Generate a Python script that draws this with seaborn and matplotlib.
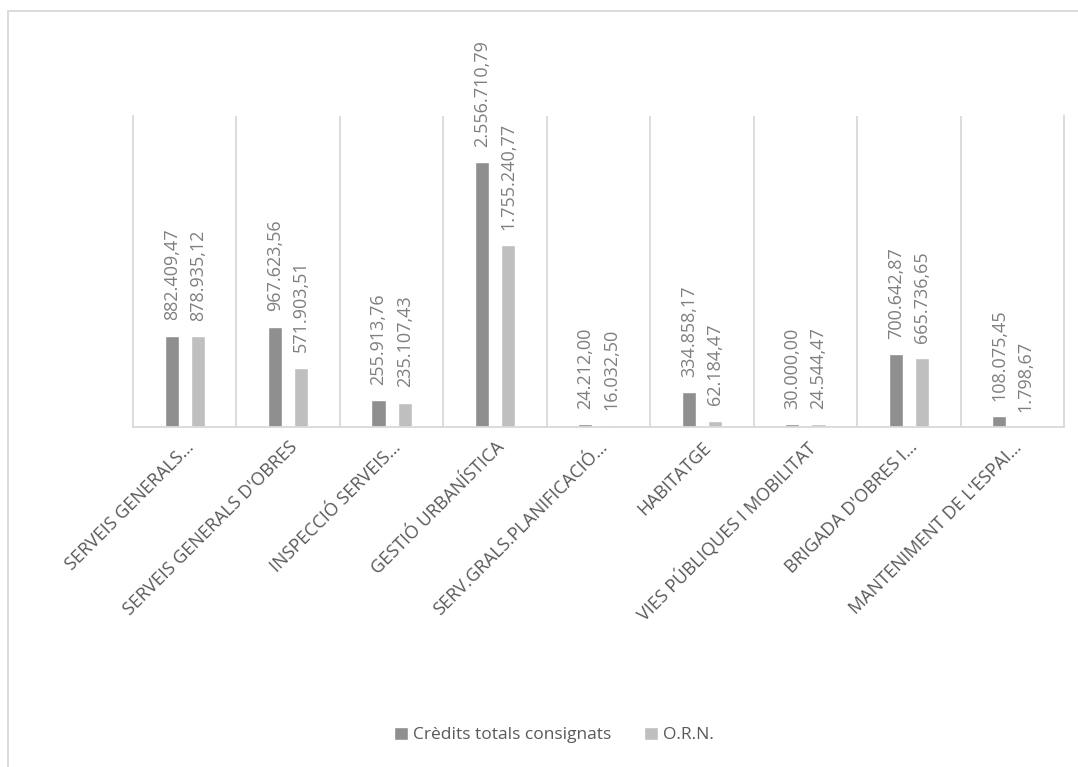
import pandas as pd
import matplotlib
matplotlib.use("Agg")
import matplotlib.pyplot as plt
from matplotlib.lines import Line2D
import seaborn as sns

categories = [
    "SERVEIS GENERALS…",
    "SERVEIS GENERALS D'OBRES",
    "INSPECCIÓ SERVEIS…",
    "GESTIÓ URBANÍSTICA",
    "SERV.GRALS.PLANIFICACIÓ…",
    "HABITATGE",
    "VIES PÚBLIQUES I MOBILITAT",
    "BRIGADA D'OBRES I…",
    "MANTENIMENT DE L'ESPAI…",
]
credits = [882409.47, 967623.56, 255913.76, 2556710.79, 24212.00,
           334858.17, 30000.00, 700642.87, 108075.45]
orn = [878935.12, 571903.51, 235107.43, 1755240.77, 16032.50,
       62184.47, 24544.47, 665736.65, 1798.67]
series = ["Crèdits totals consignats", "O.R.N."]
colors = ["#8f8f8f", "#bfbfbf"]

df = pd.DataFrame({
    "cat": categories * 2,
    "val": credits + orn,
    "serie": [series[0]] * len(categories) + [series[1]] * len(categories),
})

sns.set_theme(style="white")
plt.rcParams["font.family"] = ["Open Sans", "DejaVu Sans"]

fig = plt.figure(figsize=(10.78, 7.67), dpi=100)
ax = fig.add_axes([133 / 1078, 340 / 767, 931 / 1078, 311 / 767])

sns.barplot(data=df, x="cat", y="val", hue="serie", palette=colors,
            width=0.505, gap=0.46, errorbar=None, ax=ax)

def fmt(v):
    s = f"{v:,.2f}"
    return s.replace(",", "X").replace(".", ",").replace("X", ".")

for cont, vals in zip(ax.containers, [credits, orn]):
    ax.bar_label(cont, labels=[fmt(v) for v in vals], rotation=90,
                 padding=11, fontsize=13, color="#7f7f7f")

ax.set_ylim(0, 3000000)
ax.set_xlim(-0.5, len(categories) - 0.5)
ax.set_yticks([])
ax.set_xlabel("")
ax.set_ylabel("")

# separators between categories
ax.set_xticks([i + 0.5 for i in range(len(categories) - 1)], minor=True)
ax.grid(which="minor", axis="x", color="#d9d9d9", linewidth=1.3)
ax.tick_params(axis="x", which="both", length=0, pad=8)
ax.set_xticks(range(len(categories)))
ax.set_xticklabels(categories, rotation=45, ha="right", va="top",
                   rotation_mode="anchor", fontsize=13, color="#595959")

ax.spines["top"].set_visible(False)
for s in ["left", "right", "bottom"]:
    ax.spines[s].set_color("#d9d9d9")
    ax.spines[s].set_linewidth(1.3)

handles, labels = ax.get_legend_handles_labels()
ax.get_legend().remove()
fig.legend(handles, labels, loc="center", bbox_to_anchor=(0.514, 1 - 735 / 767),
           ncol=2, frameon=False, fontsize=12.5, handlelength=0.8,
           handleheight=0.8, handletextpad=0.3, columnspacing=1.9,
           labelcolor="#595959")

# chart area border (cropped on right and bottom)
fig.add_artist(Line2D([8 / 1078, 1], [1 - 11 / 767] * 2, transform=fig.transFigure,
                      color="#d9d9d9", linewidth=1.3))
fig.add_artist(Line2D([8 / 1078] * 2, [0, 1 - 11 / 767], transform=fig.transFigure,
                      color="#d9d9d9", linewidth=1.3))

fig.savefig("out.png", dpi=100, facecolor="white")
